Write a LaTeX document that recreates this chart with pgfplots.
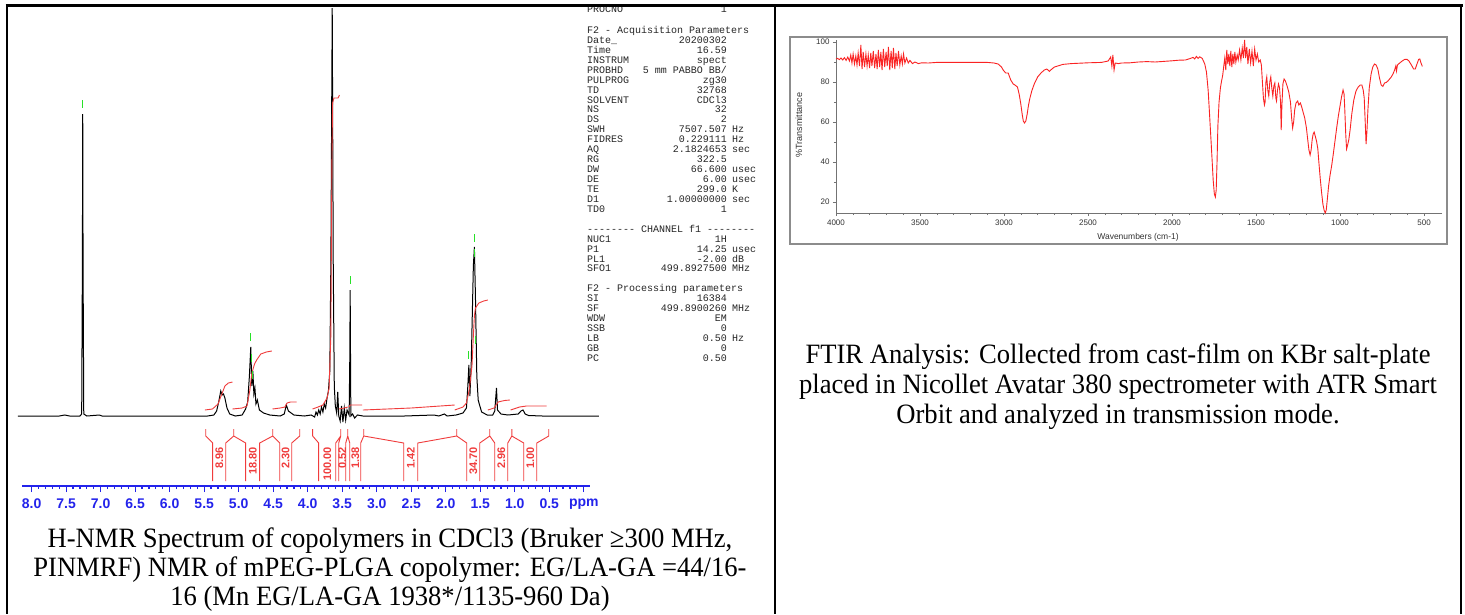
\documentclass[border=0pt]{standalone}
\usepackage{pgfplots}
\pgfplotsset{compat=1.18}
\usepackage{fontspec}
\setmainfont{Liberation Serif}
\setsansfont{Liberation Sans}
\setmonofont{Liberation Mono}
\definecolor{nmrblue}{RGB}{35,35,235}
\definecolor{intred}{RGB}{240,60,60}
\definecolor{pkgreen}{RGB}{40,225,40}
\definecolor{irred}{RGB}{250,35,35}

% one parameter line of the Bruker listing: y, name, value, unit
\newcommand\prm[4]{%
  \node[anchor=west,inner sep=0pt,text height=6pt,text depth=0pt] at (587pt,-#1pt) {#2};
  \node[anchor=east,inner sep=0pt,text height=6pt,text depth=0pt] at (727pt,-#1pt) {#3};
  \node[anchor=west,inner sep=0pt,text height=6pt,text depth=0pt] at (732pt,-#1pt) {#4};}

\begin{document}
\begin{tikzpicture}
\useasboundingbox (0pt,0pt) rectangle (1465pt,-614pt);
\fill[white] (0pt,0pt) rectangle (1465pt,-614pt);

% ---------------- 1H NMR spectrum ----------------
\begin{axis}[
  at={(306pt,-247pt)}, anchor=center,
  scale only axis, width=568pt, height=478pt,
  x dir=reverse, xmin=-0.09, xmax=8.14, ymin=-70, ymax=408,
  axis x line*=bottom, axis y line=none,
  x axis line style={-, nmrblue, line width=1.2pt},
  xtick={0,0.5,1.0,1.5,2.0,2.5,3.0,3.5,4.0,4.5,5.0,5.5,6.0,6.5,7.0,7.5,8.0},
  xticklabels={ppm,0.5,1.0,1.5,2.0,2.5,3.0,3.5,4.0,4.5,5.0,5.5,6.0,6.5,7.0,7.5,8.0},
  minor x tick num=4,
  tick align=outside, major tick length=6pt, minor tick length=3pt,
  tick style={nmrblue, line width=1.2pt},
  xticklabel style={text=nmrblue, yshift=-3pt, font=\sffamily\bfseries\fontsize{14}{14}\selectfont},
  unbounded coords=jump,
  clip=false,
]
% spectrum (intensity in px above baseline)
\addplot[black, line width=1pt] coordinates {
 (8.20,0) (7.60,0) (7.52,1) (7.45,0) (7.30,0) (7.275,2) (7.265,150) (7.26,302) (7.255,150) (7.245,2) (7.20,0)
 (7.02,1) (6.98,0) (5.45,0) (5.36,1) (5.32,5) (5.29,14) (5.26,25) (5.24,21) (5.22,22) (5.20,18) (5.17,8) (5.13,2) (5.05,0)
 (4.95,1) (4.90,7) (4.87,14) (4.845,40) (4.825,69) (4.81,30) (4.795,45) (4.78,22) (4.765,28) (4.75,12) (4.73,16) (4.70,6) (4.64,3) (4.55,1) (4.40,0)
 (4.34,2) (4.31,11) (4.28,5) (4.20,1) (4.05,0) (3.95,1) (3.90,-1) (3.88,4) (3.86,1) (3.84,6) (3.82,2) (3.80,9) (3.78,4) (3.76,12)
 (3.74,8) (3.72,18) (3.70,25) (3.68,45) (3.665,150) (3.645,408) (3.63,150) (3.615,30) (3.60,10) (3.58,3) (3.565,24) (3.55,0) (3.53,-5)
 (3.51,10) (3.49,-6) (3.47,8) (3.45,-4) (3.43,6) (3.40,1) (3.39,60) (3.385,126) (3.38,60) (3.375,0) (3.35,2) (3.32,-2) (3.28,1) (3.20,0)
 (2.60,0) (2.17,1) (2.10,0) (2.02,2) (1.98,0) (1.85,1) (1.75,3) (1.70,8) (1.68,30) (1.665,51) (1.65,20) (1.63,55) (1.60,150) (1.585,169)
 (1.57,120) (1.55,40) (1.53,16) (1.51,11) (1.48,4) (1.40,1) (1.32,1) (1.29,5) (1.265,28) (1.25,6) (1.20,2) (1.10,1) (0.95,2) (0.91,5)
 (0.88,6) (0.85,2) (0.80,0.5) (0.60,0) (-0.22,0)
};
% integral curves
\addplot[intred, line width=0.9pt] coordinates {
 (5.49,6) (5.38,7) (5.30,12) (5.25,21) (5.20,30) (5.15,33) (5.09,34) (nan,nan)
 (5.09,7) (4.95,8) (4.88,10) (4.84,25) (4.81,43) (4.77,52) (4.74,56) (4.68,62) (4.60,64) (4.52,65) (nan,nan)
 (4.51,7) (4.40,8) (4.33,9) (4.30,13) (4.25,14) (4.16,14) (nan,nan)
 (3.93,7) (3.85,9) (3.78,11) (3.72,18) (3.69,28) (3.665,80) (3.65,250) (3.64,313) (3.62,318) (3.56,318) (3.54,321) (nan,nan)
 (3.55,7) (3.47,8) (3.42,9) (nan,nan)
 (3.40,9) (3.385,11) (3.30,11) (3.21,11) (nan,nan)
 (3.20,6) (2.50,8) (1.87,11) (nan,nan)
 (1.87,6) (1.75,9) (1.70,13) (1.66,26) (1.62,50) (1.60,80) (1.585,100) (1.57,108) (1.52,113) (1.45,115) (1.39,116) (nan,nan)
 (1.39,6) (1.30,8) (1.27,11) (1.24,14) (1.15,15.5) (1.07,16) (nan,nan)
 (1.06,6) (0.93,9) (0.83,10) (0.54,10)
};
% peak-pick markers
\addplot[only marks, mark=|, mark size=4pt, pkgreen, mark options={line width=1pt}] coordinates {
 (7.26,312) (4.825,79) (4.81,58) (4.80,41) (3.385,136) (1.665,61) (1.585,178) (1.58,163) (1.565,76)
};
% integral brackets
\addplot[intred, line width=0.9pt] coordinates {
 (5.478,-13) (5.478,-20) (5.377,-27) (5.377,-65) (nan,nan) (5.072,-13) (5.072,-20) (5.188,-27) (5.188,-65) (nan,nan)
 (5.072,-13) (5.072,-20) (4.899,-27) (4.899,-65) (nan,nan) (4.507,-13) (4.507,-20) (4.696,-27) (4.696,-65) (nan,nan)
 (4.507,-13) (4.507,-20) (4.406,-27) (4.406,-65) (nan,nan) (4.116,-13) (4.116,-20) (4.232,-27) (4.232,-65) (nan,nan)
 (3.928,-13) (3.928,-20) (3.841,-27) (3.841,-65) (nan,nan) (3.522,-13) (3.522,-20) (3.594,-27) (3.594,-65) (nan,nan)
 (3.522,-13) (3.522,-20) (3.551,-27) (3.551,-65) (nan,nan) (3.420,-13) (3.420,-20) (3.449,-27) (3.449,-65) (nan,nan)
 (3.420,-13) (3.420,-20) (3.391,-27) (3.391,-65) (nan,nan) (3.188,-13) (3.188,-20) (3.232,-27) (3.232,-65) (nan,nan)
 (3.188,-13) (3.188,-20) (2.609,-27) (2.609,-65) (nan,nan) (1.841,-13) (1.841,-20) (2.406,-27) (2.406,-65) (nan,nan)
 (1.841,-13) (1.841,-20) (1.696,-27) (1.696,-65) (nan,nan) (1.362,-13) (1.362,-20) (1.507,-27) (1.507,-65) (nan,nan)
 (1.362,-13) (1.362,-20) (1.290,-27) (1.290,-65) (nan,nan) (1.043,-13) (1.043,-20) (1.101,-27) (1.101,-65) (nan,nan)
 (1.043,-13) (1.043,-20) (0.870,-27) (0.870,-65) (nan,nan) (0.507,-13) (0.507,-20) (0.681,-27) (0.681,-65)
};
\begin{scope}[every node/.style={rotate=90, anchor=east, inner sep=0pt, text=intred, font=\sffamily\bfseries\fontsize{11}{11}\selectfont}]
 \node at (axis cs:5.282,-31) {8.96};
 \node at (axis cs:4.797,-31) {18.80};
 \node at (axis cs:4.319,-31) {2.30};
 \node at (axis cs:3.717,-31) {100.00};
 \node at (axis cs:3.500,-31) {0.52};
 \node at (axis cs:3.311,-31) {1.38};
 \node at (axis cs:2.507,-31) {1.42};
 \node at (axis cs:1.601,-31) {34.70};
 \node at (axis cs:1.195,-31) {2.96};
 \node at (axis cs:0.775,-31) {1.00};
\end{scope}
\end{axis}

% Bruker parameter listing
\begin{scope}[font=\ttfamily\fontsize{10}{10}\selectfont, text=black!85]
\prm{9}{PROCNO}{1}{}
\node[anchor=west,inner sep=0pt,text height=6pt,text depth=0pt] at (587pt,-30pt) {F2 - Acquisition Parameters};
\prm{40}{Date\_}{20200302}{}
\prm{50}{Time}{16.59}{}
\prm{60}{INSTRUM}{spect}{}
\prm{70}{PROBHD}{5 mm PABBO BB/}{}
\prm{80}{PULPROG}{zg30}{}
\prm{90}{TD}{32768}{}
\prm{100}{SOLVENT}{CDCl3}{}
\prm{109}{NS}{32}{}
\prm{119}{DS}{2}{}
\prm{129}{SWH}{7507.507}{Hz}
\prm{139}{FIDRES}{0.229111}{Hz}
\prm{149}{AQ}{2.1824653}{sec}
\prm{159}{RG}{322.5}{}
\prm{169}{DW}{66.600}{usec}
\prm{179}{DE}{6.00}{usec}
\prm{189}{TE}{299.0}{K}
\prm{199}{D1}{1.00000000}{sec}
\prm{209}{TD0}{1}{}
\node[anchor=west,inner sep=0pt,text height=6pt,text depth=0pt] at (587pt,-229pt) {-------- CHANNEL f1 --------};
\prm{239}{NUC1}{1H}{}
\prm{249}{P1}{14.25}{usec}
\prm{259}{PL1}{-2.00}{dB}
\prm{268}{SFO1}{499.8927500}{MHz}
\node[anchor=west,inner sep=0pt,text height=6pt,text depth=0pt] at (587pt,-288pt) {F2 - Processing parameters};
\prm{298}{SI}{16384}{}
\prm{308}{SF}{499.8900260}{MHz}
\prm{318}{WDW}{EM}{}
\prm{328}{SSB}{0}{}
\prm{338}{LB}{0.50}{Hz}
\prm{348}{GB}{0}{}
\prm{358}{PC}{0.50}{}
\end{scope}

% ---------------- FTIR spectrum ----------------
\draw[black!45, line width=1.6pt] (790pt,-37pt) rectangle (1447pt,-244pt);
\begin{axis}[
  at={(1139pt,-126.5pt)}, anchor=center,
  scale only axis, width=606pt, height=173pt,
  x dir=reverse, xmin=393, xmax=4000, ymin=14.5, ymax=101,
  axis x line*=bottom, axis y line*=left,
  axis line style={-, black!55, line width=0.8pt},
  tick style={black!55, line width=0.6pt},
  xtick={500,1000,...,4000}, ytick={20,40,60,80,100},
  minor x tick num=4, minor y tick num=1,
  tick align=outside, major tick length=3pt, minor tick length=2pt,
  ticklabel style={font=\sffamily\fontsize{8}{8}\selectfont, text=black!80},
  xticklabel style={/pgf/number format/1000 sep={}},
  /pgf/number format/assume math mode=true,
  clip=false,
]
\addplot[irred, line width=0.9pt] coordinates {
 (4000,91.5) (3990,91.8) (3980,91.2) (3970,92.0) (3960,91.0) (3950,92.2) (3940,90.8) (3930,92.5) (3920,90.5) (3912,93.5)
 (3905,89.5) (3898,94) (3890,89) (3882,93) (3875,88.5) (3868,94.5) (3860,88) (3852,98.5) (3845,86.5) (3838,95) (3830,87.5)
 (3822,94) (3815,88) (3808,93.5) (3800,87) (3793,94.5) (3786,88) (3778,95.5) (3770,87) (3762,94) (3755,86.5) (3748,96)
 (3740,87.5) (3733,95) (3726,86) (3718,96.5) (3710,87.5) (3702,95) (3695,88) (3688,97.5) (3680,86) (3672,95.5) (3665,87)
 (3658,97) (3650,86.5) (3643,94.5) (3636,88) (3628,95.5) (3620,88.5) (3612,93) (3605,89) (3598,94) (3590,89.5) (3580,92)
 (3570,89.5) (3560,90.8) (3545,89.2) (3530,90) (3510,89.2) (3490,89.6) (3450,89.5) (3400,89.8) (3300,89.8) (3200,89.8)
 (3100,89.8) (3060,89.5) (3035,89.0) (3015,87.5) (3005,86) (2990,84.5) (2975,84.5) (2960,81) (2945,79) (2935,78.5)
 (2920,77.5) (2910,74) (2900,69) (2892,64) (2885,60.5) (2878,59.5) (2870,60.5) (2862,64) (2855,68) (2847,71.5) (2835,75.5)
 (2820,79) (2800,82.5) (2780,84.5) (2760,86) (2745,86.5) (2730,85.3) (2715,86.5) (2700,87.5) (2680,88) (2650,88.8)
 (2600,89.2) (2500,89.6) (2420,89.8) (2380,90.5) (2365,92.5) (2358,88) (2352,93.5) (2345,86) (2338,89.5) (2320,89.2)
 (2300,89.5) (2250,89.6) (2200,90.0) (2150,90.2) (2100,90.0) (2050,90.3) (2000,90.6) (1960,90.9) (1920,91.0) (1890,91.8)
 (1875,92.3) (1865,91.5) (1855,92.8) (1845,91.8) (1835,92.6) (1820,91.8) (1805,89) (1795,85) (1785,76) (1778,66) (1770,54)
 (1762,42) (1755,31) (1748,24) (1742,22.5) (1737,26) (1732,40) (1727,58) (1720,70) (1712,77) (1705,80.5) (1698,83.5)
 (1692,88) (1686,92) (1680,86) (1674,96) (1668,89) (1662,94) (1656,88) (1650,95.5) (1644,87.5) (1638,94) (1632,89)
 (1626,95) (1620,90) (1612,93.5) (1606,91) (1598,96) (1590,91) (1582,97) (1575,92) (1568,101) (1562,92) (1555,97.5)
 (1548,89) (1540,96.5) (1532,89.5) (1524,95.5) (1516,88) (1508,96.5) (1500,91) (1492,94) (1484,90) (1475,91) (1468,88.5)
 (1462,80) (1456,72) (1450,68.5) (1446,70) (1441,80) (1436,82.5) (1430,76) (1424,73) (1418,80) (1412,82.5) (1406,77)
 (1400,73) (1394,78) (1388,79.5) (1382,72) (1378,70.5) (1372,76) (1366,79) (1360,77) (1354,70) (1350,56) (1346,68)
 (1340,79) (1333,81.5) (1325,80.5) (1315,78) (1305,75) (1295,70) (1288,62) (1282,57) (1276,60) (1270,66) (1262,69.5)
 (1252,70.5) (1245,68.5) (1236,69.5) (1228,67.5) (1220,65) (1210,62) (1200,57) (1192,51) (1185,46) (1178,43.5) (1172,46)
 (1166,51) (1160,54) (1154,55) (1146,52.5) (1140,50.5) (1132,46.5) (1126,40) (1118,32) (1110,25) (1102,19) (1095,16)
 (1088,14.5) (1082,16) (1076,21) (1068,28) (1060,33) (1050,38) (1040,44) (1030,50.5) (1020,57) (1010,63) (1000,68)
 (990,73) (982,76) (976,74) (972,67) (966,54) (961,46.5) (956,48) (948,51) (940,56) (930,64) (918,71) (905,75.5)
 (892,77.5) (880,78.5) (870,78.5) (862,76) (856,72) (850,60) (845,49) (840,55) (834,66) (826,77) (815,84) (805,87.5)
 (795,89) (785,88.5) (775,86.5) (765,82) (755,78.5) (745,77.8) (735,79.5) (725,79.8) (715,80.5) (705,81.5) (695,82.5)
 (685,84) (675,86) (668,88) (664,85.5) (658,88.5) (645,89.5) (630,90.5) (615,91.3) (600,91.3) (590,90.5) (575,88.5)
 (562,86.5) (552,86.5) (542,89) (532,91.3) (525,91.5) (518,89.5) (510,87.8)
};
\end{axis}
\node[rotate=90, text=black!80, font=\sffamily\fontsize{9}{9}\selectfont] at (799pt,-125pt) {\%Transmittance};
\node[text=black!80, font=\sffamily\fontsize{8.5}{8.5}\selectfont] at (1138pt,-237pt) {Wavenumbers (cm-1)};

% ---------------- captions ----------------
\node[align=center, xscale=0.95, font=\fontsize{28}{29}\selectfont] at (390pt,-570pt)
 {H-NMR Spectrum of copolymers in CDCl3 (Bruker ≥300 MHz,\\
  PINMRF) NMR of mPEG-PLGA copolymer: EG/LA-GA =44/16-\\
  16 (Mn EG/LA-GA 1938*/1135-960 Da)};
\node[align=center, xscale=0.95, font=\fontsize{28}{30}\selectfont] at (1118pt,-387pt)
 {FTIR Analysis: Collected from cast-film on KBr salt-plate\\
  placed in Nicollet Avatar 380 spectrometer with ATR Smart\\
  Orbit and analyzed in transmission mode.};

% ---------------- table rules ----------------
\draw[black, line width=3pt] (5.5pt,-5pt) -- (1462.5pt,-5pt);
\draw[black, line width=2.5pt] (7pt,-5pt) -- (7pt,-614pt);
\draw[black, line width=2.5pt] (775pt,-5pt) -- (775pt,-614pt);
\draw[black, line width=2.5pt] (1461pt,-5pt) -- (1461pt,-614pt);
\end{tikzpicture}
\end{document}
